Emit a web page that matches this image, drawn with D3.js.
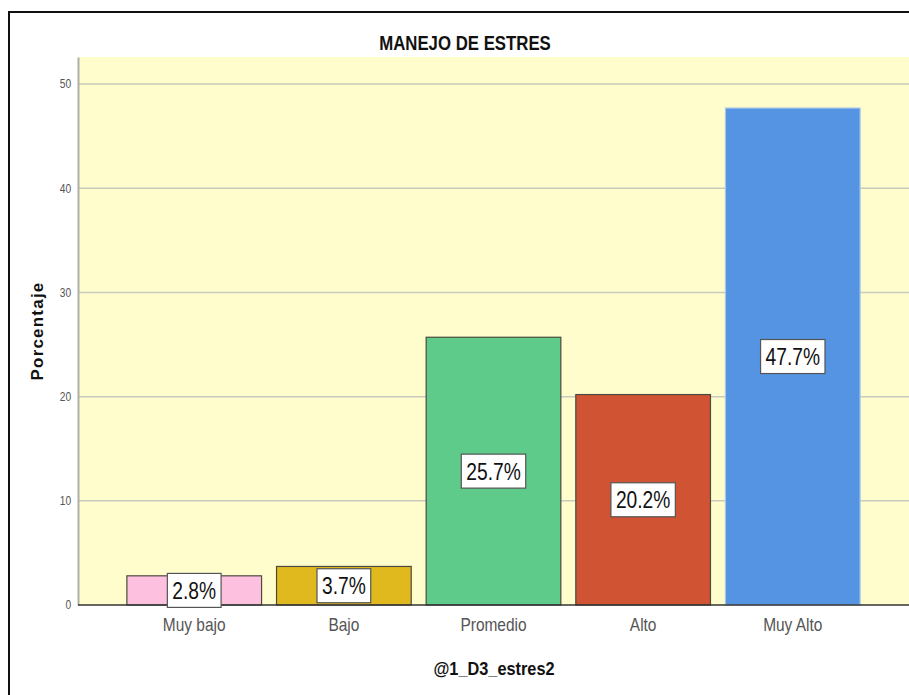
<!DOCTYPE html>
<html>
<head>
<meta charset="utf-8">
<script src="https://cdn.jsdelivr.net/npm/d3@7"></script>
<style>
  body { margin: 0; background: #fff; }
  svg { display: block; }
</style>
</head>
<body>
<script>
// data
var categories = ["Muy bajo", "Bajo", "Promedio", "Alto", "Muy Alto"];
var values = [2.8, 3.7, 25.7, 20.2, 47.7];
var barColors = ["#fdc1df", "#e0b91e", "#5ecb8b", "#d05333", "#5594e3"];
var yTicks = [0, 10, 20, 30, 40, 50];

var W = 909, H = 695;
// no narrow font installed, so squeeze text horizontally instead
var sans = "'Liberation Sans', Arial, sans-serif";

var svg = d3.select("body").append("svg")
    .attr("width", W)
    .attr("height", H);

// outer frame
svg.append("path")
    .attr("d", "M9,700 L9,12 L915,12")
    .attr("fill", "none")
    .attr("stroke", "#111")
    .attr("stroke-width", 2);

var plotLeft = 78, plotTop = 57, plotRight = 909, plotBottom = 605;

var y = d3.scaleLinear()
    .domain([0, 52.6])
    .range([plotBottom, plotTop]);

var x = d3.scaleBand()
    .domain(categories)
    .range([82, 905])
    .paddingInner(0.1)
    .paddingOuter(0.3);

// plot background
svg.append("rect")
    .attr("x", plotLeft)
    .attr("y", plotTop)
    .attr("width", plotRight - plotLeft)
    .attr("height", plotBottom - plotTop)
    .attr("fill", "#fffdcc");

// grid lines
svg.append("g")
  .selectAll("line")
  .data(yTicks.filter(function(d) { return d > 0 }))
  .enter().append("line")
    .attr("x1", plotLeft)
    .attr("x2", plotRight)
    .attr("y1", function(d) { return y(d) })
    .attr("y2", function(d) { return y(d) })
    .attr("stroke", "#c9c9bd")
    .attr("stroke-width", 1.5);

// y axis
var yAxis = svg.append("g")
    .attr("transform", "translate(" + plotLeft + ",0)")
    .call(d3.axisLeft(y).tickValues(yTicks).tickSize(0).tickPadding(8));
yAxis.select(".domain").attr("stroke", "#b0b0a8").attr("stroke-width", 2);
yAxis.selectAll("text")
    .attr("font-family", sans)
    .attr("font-size", 12)
    .attr("fill", "#555")
    .attr("transform", "scale(0.85,1)");

// bars
svg.append("g")
  .selectAll("rect")
  .data(values)
  .enter().append("rect")
    .attr("x", function(d, i) { return x(categories[i]) })
    .attr("y", function(d) { return y(d) })
    .attr("width", x.bandwidth())
    .attr("height", function(d) { return y(0) - y(d) })
    .attr("fill", function(d, i) { return barColors[i] })
    .attr("stroke", function(d, i) { return i == 4 ? "#a9c6e6" : "#4a4a40" })
    .attr("stroke-width", 1.2);

// x axis
var xAxis = svg.append("g")
    .attr("transform", "translate(0," + plotBottom + ")")
    .call(d3.axisBottom(x).tickSize(0).tickPadding(13));
xAxis.select(".domain")
    .attr("d", "M" + plotLeft + ",0H" + plotRight)
    .attr("stroke", "#333")
    .attr("stroke-width", 1.5);
xAxis.selectAll("text")
    .attr("font-family", sans)
    .attr("font-size", 18)
    .attr("fill", "#555")
    .attr("transform", "scale(0.86,1)");

// value labels
var labelScale = 0.8;
var labels = svg.append("g")
  .selectAll("g")
  .data(values)
  .enter().append("g")
    .attr("transform", function(d, i) {
      return "translate(" + (x(categories[i]) + x.bandwidth() / 2) + "," + ((y(d) + y(0)) / 2) + ")";
    });

labels.append("text")
    .attr("text-anchor", "middle")
    .attr("dy", "0.36em")
    .attr("transform", "scale(" + labelScale + ",1)")
    .attr("font-family", sans)
    .attr("font-size", 24)
    .attr("fill", "#111")
    .text(function(d) { return d.toFixed(1) + "%" });

labels.each(function() {
  var g = d3.select(this);
  var bb = g.select("text").node().getBBox();
  var w = bb.width * labelScale + 10;
  g.insert("rect", "text")
    .attr("x", -w / 2)
    .attr("y", -17)
    .attr("width", w)
    .attr("height", 34)
    .attr("fill", "#fff")
    .attr("stroke", "#555")
    .attr("stroke-width", 1.2);
});

// titles
svg.append("text")
    .attr("transform", "translate(465,50) scale(0.84,1)")
    .attr("text-anchor", "middle")
    .attr("font-family", sans)
    .attr("font-weight", "bold")
    .attr("font-size", 20)
    .attr("fill", "#111")
    .text("MANEJO DE ESTRES");

svg.append("text")
    .attr("transform", "translate(494,675) scale(0.86,1)")
    .attr("text-anchor", "middle")
    .attr("font-family", sans)
    .attr("font-weight", "bold")
    .attr("font-size", 19)
    .attr("fill", "#111")
    .text("@1_D3_estres2");

svg.append("text")
    .attr("transform", "translate(43,331) rotate(-90)")
    .attr("text-anchor", "middle")
    .attr("font-family", sans)
    .attr("font-weight", "bold")
    .attr("font-size", 17)
    .attr("letter-spacing", 1.2)
    .attr("fill", "#111")
    .text("Porcentaje");
</script>
</body>
</html>
